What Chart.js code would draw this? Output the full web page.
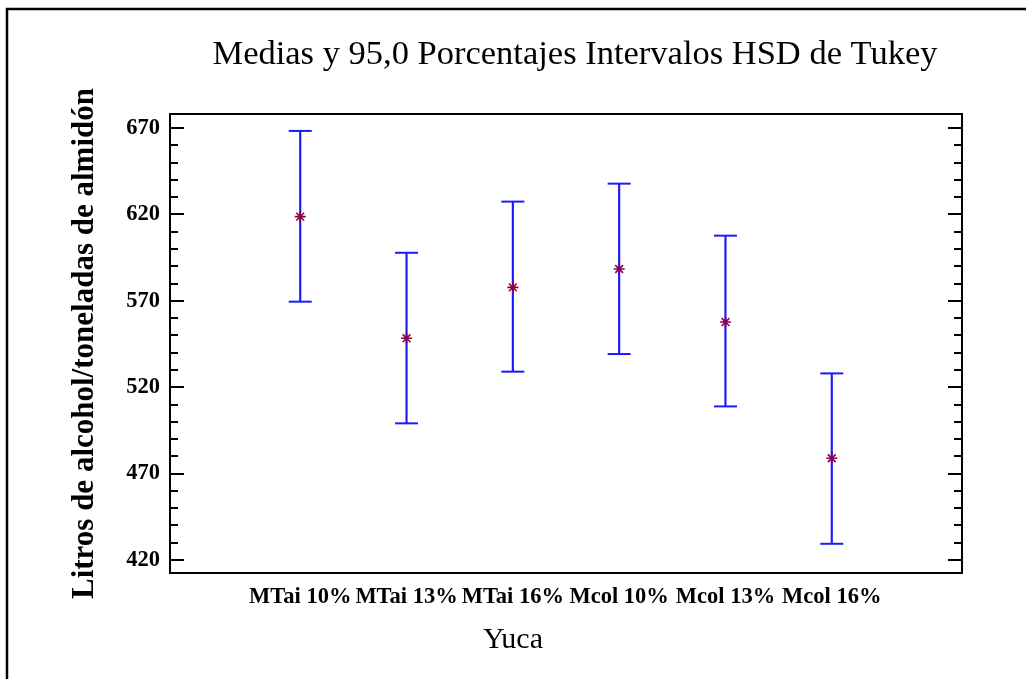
<!DOCTYPE html>
<html>
<head>
<meta charset="utf-8">
<title>Medias y 95,0 Porcentajes Intervalos HSD de Tukey</title>
<script src="https://cdn.jsdelivr.net/npm/chart.js@4/dist/chart.umd.min.js"></script>
<style>
  html, body { margin: 0; padding: 0; background: #fff; }
  canvas { display: block; }
</style>
</head>
<body>
<canvas id="chart" width="1026" height="679"></canvas>
<script>
// Yuca treatments and their Tukey HSD 95% intervals
const categories = ['MTai 10%', 'MTai 13%', 'MTai 16%', 'Mcol 10%', 'Mcol 13%', 'Mcol 16%'];
const means = [618.7, 548.3, 577.8, 588.4, 557.7, 478.9];
const lowerLimits = [569.5, 499.1, 529.0, 539.2, 508.9, 429.4];
const upperLimits = [668.3, 597.8, 627.4, 637.8, 607.7, 528.0];

// Labelled (major) y ticks; unlabelled minor ticks every 10 units
const yTickLabels = [420, 470, 520, 570, 620, 670];
const yMinorStep = 10;

const SERIF = '"Liberation Serif", "Times New Roman", serif';
const STEM_BLUE = '#1a1aff';
const MEAN_COLOR = '#8a0050';

Chart.defaults.color = '#000';
Chart.defaults.font.family = SERIF;

const isMajor = v => yTickLabels.some(t => Math.abs(t - v) < 1e-6);

// Draws the page frame, the plot box and the inward y ticks on both sides
const framePlugin = {
  id: 'plotFrame',
  afterLayout(chart) {
    // title sits slightly right of the plot centre
    if (chart.titleBlock) chart.titleBlock.left = chart.chartArea.left + 18;
  },
  beforeDraw(chart) {
    const ctx = chart.ctx;
    ctx.save();
    ctx.strokeStyle = '#000';
    ctx.lineWidth = 2.5;
    ctx.beginPath();
    ctx.moveTo(7, chart.height + 5);
    ctx.lineTo(7, 9);
    ctx.lineTo(chart.width + 5, 9);
    ctx.stroke();
    ctx.restore();
  },
  beforeDatasetsDraw(chart) {
    const { ctx, chartArea: a, scales: { y } } = chart;
    ctx.save();
    ctx.strokeStyle = '#000';
    ctx.lineWidth = 2;
    ctx.strokeRect(a.left, a.top, a.right - a.left, a.bottom - a.top);
    y.ticks.forEach(t => {
      const py = Math.round(y.getPixelForValue(t.value));
      const len = isMajor(t.value) ? 14 : 8;
      ctx.beginPath();
      ctx.moveTo(a.left, py);
      ctx.lineTo(a.left + len, py);
      ctx.moveTo(a.right, py);
      ctx.lineTo(a.right - len, py);
      ctx.stroke();
    });
    ctx.restore();
  }
};

new Chart(document.getElementById('chart'), {
  data: {
    datasets: [
      {
        type: 'scatter',
        label: 'Media',
        data: categories.map((c, i) => ({ x: i, y: means[i] })),
        pointStyle: 'star',
        pointRadius: 5.5,
        borderColor: MEAN_COLOR,
        backgroundColor: MEAN_COLOR,
        borderWidth: 1.6
      },
      {
        type: 'scatter',
        label: 'Límite superior',
        data: categories.map((c, i) => ({ x: i, y: upperLimits[i] })),
        pointStyle: 'line',
        pointRadius: 11.5,
        borderColor: STEM_BLUE,
        borderWidth: 2
      },
      {
        type: 'scatter',
        label: 'Límite inferior',
        data: categories.map((c, i) => ({ x: i, y: lowerLimits[i] })),
        pointStyle: 'line',
        pointRadius: 11.5,
        borderColor: STEM_BLUE,
        borderWidth: 2
      },
      {
        type: 'bar',
        label: 'Intervalo',
        data: categories.map((c, i) => ({ x: i, y: [lowerLimits[i], upperLimits[i]] })),
        backgroundColor: STEM_BLUE,
        borderWidth: 0,
        barThickness: 1.5
      }
    ]
  },
  options: {
    responsive: false,
    animation: false,
    events: [],
    layout: { padding: 0 },
    plugins: {
      legend: { display: false },
      tooltip: { enabled: false },
      title: {
        display: true,
        text: 'Medias y 95,0 Porcentajes Intervalos HSD de Tukey',
        fullSize: false,
        color: '#000',
        font: { family: SERIF, size: 34.5, weight: 'normal', lineHeight: 1.2 },
        padding: { top: 34.3, bottom: 38.3 }
      },
      subtitle: {
        display: true,
        position: 'bottom',
        text: 'Yuca',
        color: '#000',
        font: { family: SERIF, size: 30, weight: 'normal', lineHeight: 1.2 },
        padding: { top: 0, bottom: 21 }
      }
    },
    scales: {
      x: {
        type: 'linear',
        position: 'bottom',
        offset: false,
        min: -1.225,
        max: 6.225,
        afterBuildTicks: s => { s.ticks = categories.map((c, i) => ({ value: i })); },
        afterFit: s => { s.height = 49; },
        grid: { display: false, drawTicks: false, offset: false },
        border: { display: false },
        ticks: {
          autoSkip: false,
          maxRotation: 0,
          minRotation: 0,
          padding: 10.8,
          font: { family: SERIF, size: 22.5, weight: 'bold', lineHeight: 1.2 },
          callback: v => categories[v] ?? ''
        }
      },
      y: {
        type: 'linear',
        position: 'left',
        min: 412.5,
        max: 678.1,
        afterFit: s => { s.width = 170; },
        grid: { display: false, drawTicks: false },
        border: { display: false },
        ticks: {
          stepSize: yMinorStep,
          includeBounds: false,
          autoSkip: false,
          padding: 10,
          font: { family: SERIF, size: 22.5, weight: 'bold', lineHeight: 1.2 },
          callback: v => (isMajor(v) ? String(Math.round(v)) : '')
        },
        title: {
          display: true,
          text: 'Litros de alcohol/toneladas de almidón',
          font: { family: SERIF, size: 31, weight: 'bold', lineHeight: 1.2 },
          padding: { top: 66.4, bottom: 0 }
        }
      },
      yRight: {
        type: 'linear',
        position: 'right',
        min: 412.5,
        max: 678.1,
        afterFit: s => { s.width = 64; },
        grid: { display: false, drawTicks: false },
        border: { display: false },
        ticks: { display: false }
      }
    }
  },
  plugins: [framePlugin]
});
</script>
</body>
</html>
